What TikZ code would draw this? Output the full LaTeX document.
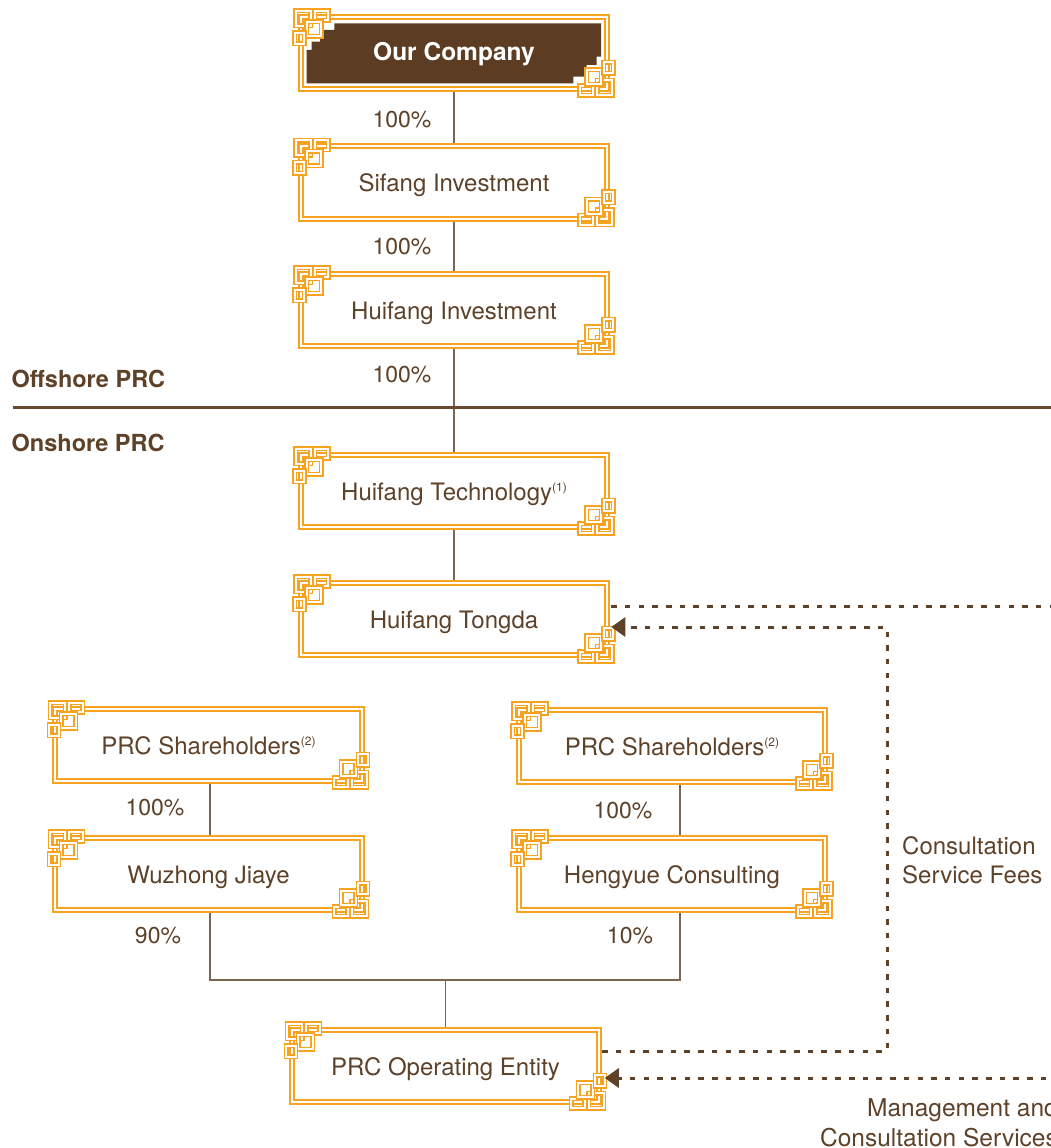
\documentclass[tikz,border=0pt]{standalone}
\usepackage{fontspec}
\setmainfont{TeX Gyre Heros}
\usetikzlibrary{arrows.meta,backgrounds,calc}
\definecolor{orng}{HTML}{F7A320}
\definecolor{txt}{HTML}{5E4129}
\definecolor{connc}{HTML}{7D6650}
\definecolor{dark}{HTML}{5C3D24}
\definecolor{sepc}{HTML}{6A4A2F}
\newcommand\supnote[1]{\raisebox{9pt}{\fontsize{12}{12}\selectfont #1}}
\tikzset{
  ornl/.style={draw=orng,double=white,line width=1.6pt,double distance=1.9pt},
  orn/.pic={
    \draw[ornl] (-5,-6) rectangle (10,9);
    \draw[ornl] (14,-6) rectangle (27.5,3.5);
    \draw[ornl] (6,5) rectangle (20.5,19.5);
    \draw[ornl] (-6,16) rectangle (3.5,27);
  }
}
\begin{document}
\begin{tikzpicture}[x=1pt,y=-1pt,
  box/.style={draw=orng,double=white,line width=1.9pt,double distance=2.2pt,
    minimum width=306.5pt,minimum height=72.5pt,inner sep=0pt,outer sep=0pt,
    text=txt,font=\fontsize{24}{28}\selectfont,text height=18pt,text depth=0pt},
  lbl/.style={text=txt,font=\fontsize{23}{27}\selectfont,inner sep=0pt},
  hdr/.style={text=txt,font=\fontsize{23.5}{27}\selectfont\bfseries,inner sep=0pt,anchor=base west},
  connl/.style={draw=connc,line width=1.3pt},
  dashl/.style={draw=txt,line width=3pt,dash pattern=on 5.5pt off 8.2pt},
  arr/.style={-{Triangle[length=14pt,width=19pt]}}
]
\useasboundingbox (0,0) rectangle (1051,1148);
\clip (0,0) rectangle (1051,1148);

% dark fill of the top box
\fill[dark] (334.3,23.3) -- (601,23.3) -- (601,56.7) -- (596.7,56.7) -- (596.7,65)
  -- (586.7,65) -- (586.7,76.7) -- (573.3,76.7) -- (573.3,83.3) -- (306.7,83.3)
  -- (306.7,50) -- (311.7,50) -- (311.7,41.7) -- (320,41.7) -- (320,30) -- (334.3,30) -- cycle;

% boxes
\node[box,text=white,font=\fontsize{24.5}{28}\selectfont\bfseries,text height=14pt] (oc) at (454,53) {Our Company};
\node[box] (sf) at (454,182.5) {Sifang Investment};
\node[box] (hi) at (454,310) {Huifang Investment};
\node[box] (ht) at (454,491) {Huifang Technology\supnote{(1)}};
\node[box] (td) at (454,619) {Huifang Tongda};
\node[box] (ls) at (208.5,745) {PRC Shareholders\supnote{(2)}};
\node[box] (wz) at (208.5,874) {Wuzhong Jiaye};
\node[box] (rs) at (672,746) {PRC Shareholders\supnote{(2)}};
\node[box] (hy) at (672,874) {Hengyue Consulting};
\node[box] (op) at (445.5,1066) {PRC Operating Entity};

\foreach \n in {oc,sf,hi,ht,td,ls,wz,rs,hy,op}{
  \pic at (\n.north west) {orn};
  \pic[rotate=180] at (\n.south east) {orn};
}

% percentages
\node[lbl] (p1) at (402,120) {100\%};
\node[lbl] (p2) at (402,247) {100\%};
\node[lbl] (p3) at (402,375) {100\%};
\node[lbl] (p4) at (155,808) {100\%};
\node[lbl] (p5) at (623,811) {100\%};
\node[lbl] (p6) at (158,936) {90\%};
\node[lbl] (p7) at (630,936) {10\%};

% headers and separator
\node[hdr] (off) at (11.5,387) {Offshore PRC};
\node[hdr] (on) at (11.5,451) {Onshore PRC};
\coordinate (sepL) at (12.5,407.5);
\coordinate (sepR) at (1060,407.5);
\draw[draw=sepc,line width=2.6pt] (sepL) -- (sepR);

% solid connectors
\begin{scope}[on background layer]
  \draw[connl] (oc) -- (sf);
  \draw[connl] (sf) -- (hi);
  \draw[connl] (hi) -- (ht);
  \draw[connl] (ht) -- (td);
  \draw[connl] ([xshift=1.5pt]ls.south) -- ([xshift=1.5pt]wz.north);
  \draw[connl] ([xshift=8pt]rs.south) -- ([xshift=8pt]hy.north);
  \coordinate (jn) at (445.5,980);
  \draw[connl] ([xshift=1.5pt]wz.south) |- (jn) -| ([xshift=8pt]hy.south);
  \draw[connl] (jn) -- (op.north);
\end{scope}

% dashed flows
\coordinate (e1) at (1060,606);
\draw[dashl] ([xshift=4pt,yshift=13pt]td.east) -- (e1);
\coordinate (vx) at (887,800);
\draw[dashl,arr] ([xshift=3.5pt,yshift=15pt]op.east) -| (vx) |- ([xshift=4pt,yshift=-8pt]td.east);
\coordinate (e2) at (1060,1078);
\draw[dashl,arr] (e2) -- ([xshift=6pt,yshift=-12pt]op.east);

\node[lbl,align=left,anchor=west,font=\fontsize{24}{29}\selectfont] (csf) at (902,860) {Consultation\\Service Fees};
\node[lbl,align=right,anchor=east,font=\fontsize{24.5}{30}\selectfont] (mcs) at (1058,1123) {Management and\\Consultation Services};
\end{tikzpicture}
\end{document}
